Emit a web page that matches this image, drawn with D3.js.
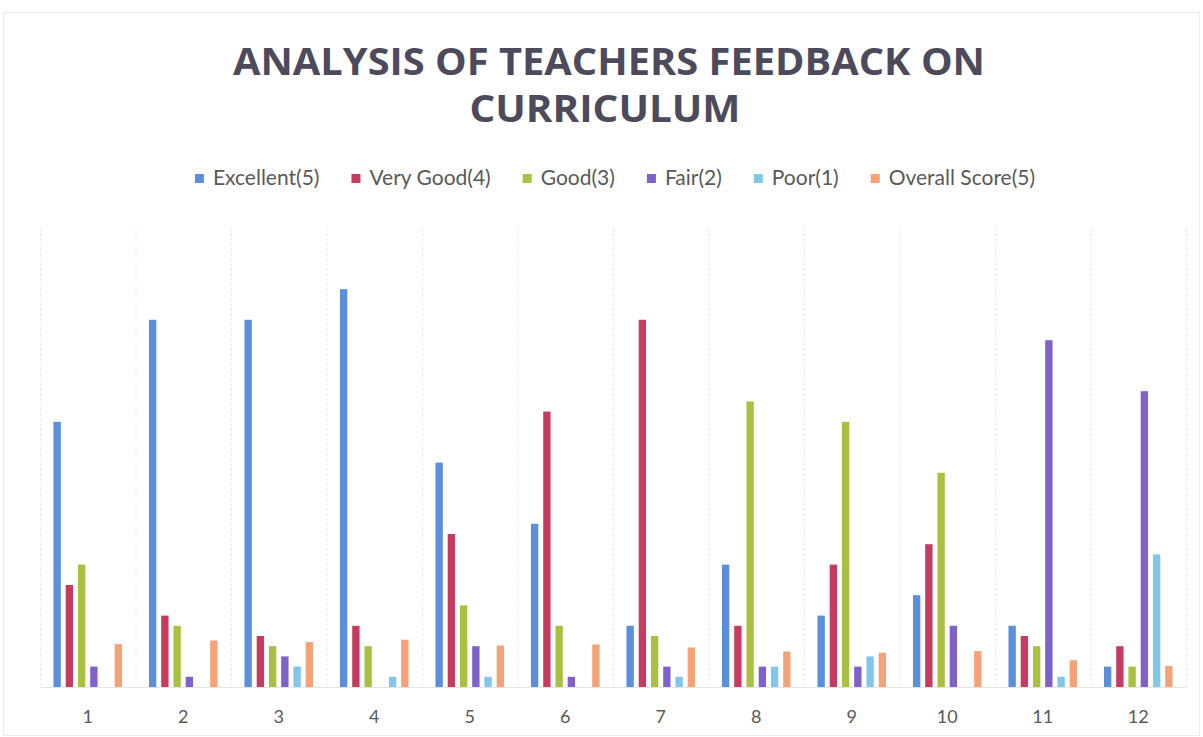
<!DOCTYPE html>
<html>
<head>
<meta charset="utf-8">
<script src="https://cdn.jsdelivr.net/npm/d3@7"></script>
<style>
  html, body { margin: 0; padding: 0; background: #ffffff; }
  svg { display: block; }
</style>
</head>
<body>
<svg id="chart" width="1203" height="737"></svg>
<script>
// ---- data ----
const categories = ["1","2","3","4","5","6","7","8","9","10","11","12"];
const seriesNames = ["Excellent(5)","Very Good(4)","Good(3)","Fair(2)","Poor(1)","Overall Score(5)"];
const excellent = [26, 36, 36, 39, 22, 16, 6, 12, 7, 9, 6, 2];
const veryGood  = [10, 7, 5, 6, 15, 27, 36, 6, 12, 14, 5, 4];
const good      = [12, 6, 4, 4, 8, 6, 5, 28, 26, 21, 4, 2];
const fair      = [2, 1, 3, 0, 4, 1, 2, 2, 2, 6, 34, 29];
const poor      = [0, 0, 2, 1, 1, 0, 1, 2, 3, 0, 1, 13];
const overall   = [4.2, 4.56, 4.4, 4.64, 4.06, 4.16, 3.88, 3.48, 3.36, 3.52, 2.62, 2.06];
const seriesColors = ["#5b8fdc", "#c63b5f", "#a9c040", "#7e62c9", "#82c6ea", "#f5a276"];
const titleLines = ["ANALYSIS OF TEACHERS FEEDBACK ON", "CURRICULUM"];
const yMax = 45;

const seriesValues = [excellent, veryGood, good, fair, poor, overall];

const svg = d3.select("#chart");
const W = 1203, H = 737;

// faint chart border
svg.append("rect").attr("x", 3.5).attr("y", 12.5).attr("width", W - 7).attr("height", H - 14)
  .attr("fill", "none").attr("stroke", "#ececec").attr("stroke-width", 1);

const plot = { left: 40, right: 1186, top: 228, bottom: 687 };

const x0 = d3.scaleBand().domain(categories).range([plot.left, plot.right]).paddingInner(0).paddingOuter(0);
const x1 = d3.scaleBand().domain(seriesNames).range([0, x0.bandwidth()]).paddingInner(0.4).paddingOuter(1.1);
const y = d3.scaleLinear().domain([0, yMax]).range([plot.bottom, plot.top]);

// vertical category gridlines
const bounds = categories.map(c => x0(c)).concat([plot.right]);
svg.append("g").selectAll("line").data(bounds).join("line")
  .attr("x1", d => d + 0.5).attr("x2", d => d + 0.5)
  .attr("y1", plot.top).attr("y2", plot.bottom)
  .attr("stroke", "#ebebeb").attr("stroke-width", 1).attr("stroke-dasharray", "3,2");

// bars
const groups = svg.append("g").selectAll("g").data(categories).join("g")
  .attr("transform", c => `translate(${x0(c)},0)`);
groups.selectAll("rect")
  .data((c, i) => seriesNames.map((s, j) => ({ s, j, v: seriesValues[j][i] })))
  .join("rect")
  .attr("x", d => x1(d.s))
  .attr("width", x1.bandwidth())
  .attr("y", d => y(d.v))
  .attr("height", d => y(0) - y(d.v))
  .attr("fill", d => seriesColors[d.j]);

// x axis
const xAxis = d3.axisBottom(x0).tickSize(0).tickPadding(23);
const gx = svg.append("g").attr("transform", `translate(0,${plot.bottom})`).call(xAxis);
gx.select(".domain").attr("stroke", "#e4e4e4");
gx.selectAll("text").attr("font-family", "Lato, 'Open Sans', sans-serif").attr("font-size", 18)
  .attr("fill", "#595959");

// title
const title = svg.append("g");
const tl1 = title.append("text").attr("x", 609).attr("y", 75).text(titleLines[0]);
const tl2 = title.append("text").attr("x", 605).attr("y", 122).text(titleLines[1]);
title.selectAll("text")
  .attr("text-anchor", "middle")
  .attr("font-family", "'Open Sans', Lato, sans-serif")
  .attr("font-weight", "bold")
  .attr("font-size", 37)
  .attr("fill", "#4d4a5c");
tl1.attr("textLength", 752).attr("lengthAdjust", "spacingAndGlyphs");
tl2.attr("textLength", 271).attr("lengthAdjust", "spacingAndGlyphs");

// legend
const legend = svg.append("g");
const items = legend.selectAll("g").data(seriesNames).join("g");
items.append("rect").attr("width", 9).attr("height", 9).attr("y", -11)
  .attr("fill", (d, i) => seriesColors[i]);
items.append("text").attr("x", 18).attr("y", 0)
  .attr("font-family", "Lato, 'Open Sans', sans-serif").attr("font-size", 21)
  .attr("fill", "#595959").text(d => d);
const widths = [];
items.each(function () { widths.push(this.getBBox().width); });
const gap = 32;
const total = d3.sum(widths) + gap * (widths.length - 1);
let cx = 615 - total / 2;
items.attr("transform", (d, i) => {
  const t = `translate(${cx},185)`;
  cx += widths[i] + gap;
  return t;
});
</script>
</body>
</html>
